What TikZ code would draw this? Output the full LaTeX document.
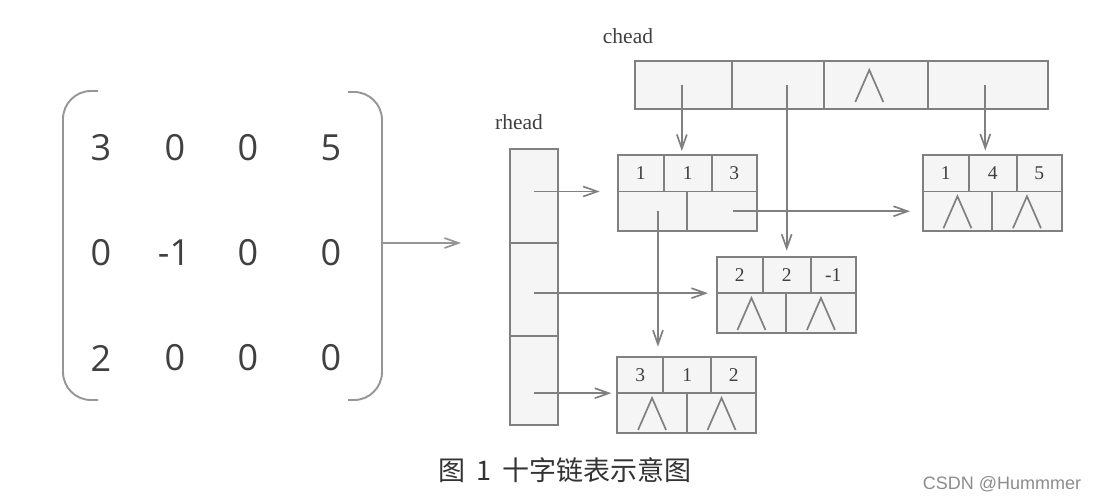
\documentclass[tikz,border=0pt]{standalone}
\usepackage{fontspec}
\usetikzlibrary{arrows.meta,calc}
\newfontfamily\matfont{Open Sans}
\newfontfamily\serfont{Liberation Serif}
\newfontfamily\cjkfont{Noto Sans CJK SC}
\newfontfamily\wmfont{Liberation Sans}
\definecolor{linec}{HTML}{808080}
\definecolor{brc}{HTML}{969696}
\definecolor{cellfill}{HTML}{F5F5F5}
\definecolor{txt}{HTML}{404040}
\tikzset{
  cell/.style={draw=linec, fill=cellfill, line width=1.7pt, inner sep=0pt, outer sep=0pt,
    anchor=north west, text=txt, font=\serfont\fontsize{19.5}{19.5}\selectfont},
  arr/.style={draw=linec, line width=1.7pt, -{Straight Barb[length=14pt,width=10pt,line width=1.7pt]}},
  nullline/.style={draw=linec, line width=1.7pt},
  bracket/.style={draw=brc, line width=1.9pt, rounded corners=28pt},
  matnum/.style={text=txt, font=\matfont\fontsize{36}{36}\selectfont, inner sep=0pt},
  headlbl/.style={text=txt, font=\serfont\fontsize{21.5}{21.5}\selectfont, inner sep=0pt}
}
\newcommand\olnode[6]{%
  \begin{scope}[shift={(#2,#3)}]
    \node[cell, minimum width=46pt, minimum height=36.5pt] (#1-i) at (0,0) {#4};
    \node[cell, minimum width=48pt, minimum height=36.5pt] (#1-j) at (46,0) {#5};
    \node[cell, minimum width=45pt, minimum height=36.5pt] (#1-v) at (94,0) {#6};
    \node[cell, minimum width=69.5pt, minimum height=39.5pt] (#1-d) at (0,36.5) {};
    \node[cell, minimum width=69.5pt, minimum height=39.5pt] (#1-r) at (69.5,36.5) {};
  \end{scope}}
\newcommand\nullmk[2][0]{%
  \draw[nullline] ($(#2.center)+(#1-14,17)$) -- ($(#2.center)+(#1,-15)$) -- ($(#2.center)+(#1+14,17)$);}
\begin{document}
\begin{tikzpicture}[x=1pt,y=-1pt]
\fill[white] (0,0) rectangle (1098,501);
\useasboundingbox (0,0) rectangle (1098,501);

% matrix
\draw[bracket] (98,91) -- (63,91) -- (63,400) -- (98,400);
\draw[bracket] (348,92) -- (382,92) -- (382,400) -- (348,400);
\node[matnum] (m11) at (101,148) {3};
\node[matnum] (m12) at (175,148) {0};
\node[matnum] (m13) at (248,148) {0};
\node[matnum] (m14) at (331,148) {5};
\node[matnum] (m21) at (101,253) {0};
\node[matnum] (m22) at (174,253) {-1};
\node[matnum] (m23) at (248,253) {0};
\node[matnum] (m24) at (331,253) {0};
\node[matnum] (m31) at (101,358) {2};
\node[matnum] (m32) at (175,358) {0};
\node[matnum] (m33) at (248,358) {0};
\node[matnum] (m34) at (331,358) {0};
\coordinate (mr) at (382,243);
\coordinate (mtip) at (461,243);
\draw[arr, draw=brc] (mr) -- (mtip);

% labels
\node[headlbl] (chead) at (628,36) {chead};
\node[headlbl] (rhead) at (519,122) {rhead};

% chead
\node[cell, minimum width=96.7pt, minimum height=48pt] (c1) at (635,61) {};
\node[cell, minimum width=92.6pt, minimum height=48pt] (c2) at (731.7,61) {};
\node[cell, minimum width=104pt, minimum height=48pt] (c3) at (824.3,61) {};
\node[cell, minimum width=120pt, minimum height=48pt] (c4) at (928.3,61) {};
\nullmk[-7]{c3}

% rhead
\node[cell, minimum width=47.7pt, minimum height=93.7pt] (r1) at (510,149) {};
\node[cell, minimum width=47.7pt, minimum height=93.3pt] (r2) at (510,242.7) {};
\node[cell, minimum width=47.7pt, minimum height=89pt] (r3) at (510,336) {};

% list nodes
\olnode{A}{617.7}{155}{1}{1}{3}
\olnode{B}{922.7}{155}{1}{4}{5}
\olnode{C}{716.7}{256.7}{2}{2}{-1}
\olnode{D}{617.3}{356.7}{3}{1}{2}
\nullmk{B-d}\nullmk{B-r}
\nullmk{C-d}\nullmk{C-r}
\nullmk{D-d}\nullmk{D-r}

% arrows
\draw[arr, shorten >=18pt] (r1.center |- A-d.north) -- (A-d.north west);
\draw[arr, shorten >=8.7pt] (r2.center |- C-d.north) -- (C-d.north west);
\draw[arr, shorten >=6pt] (r3.center |- D-d.north) -- (D-d.north west);
\draw[arr, shorten >=4pt] ([xshift=-1.5pt]c1.center) -- ([xshift=-1.5pt]c1.center |- A-j.north);
\draw[arr, shorten >=6pt] (C-j.north |- c2.center) -- (C-j.north);
\draw[arr, shorten >=4.5pt] ([xshift=-3pt]c4.center) -- ([xshift=-3pt]c4.center |- B-j.north);
\draw[arr, shorten >=10pt] ([xshift=5.5pt]A-d.center) -- ([xshift=5.5pt]A-d.center |- D-i.north);
\draw[arr, shorten >=12.7pt] ([xshift=11pt]A-r.center) -- (B-d.west |- A-r.center);

% caption
\node[font=\cjkfont\fontsize{27}{27}\selectfont, text=black!80, inner sep=0pt] (cap) at (565,470) {图\hspace{11pt}1\hspace{11pt}十字链表示意图};
\node[font=\wmfont\fontsize{18}{18}\selectfont, text=black!45, inner sep=0pt] (wm) at (1002,484) {CSDN @Hummmer};
\end{tikzpicture}
\end{document}
